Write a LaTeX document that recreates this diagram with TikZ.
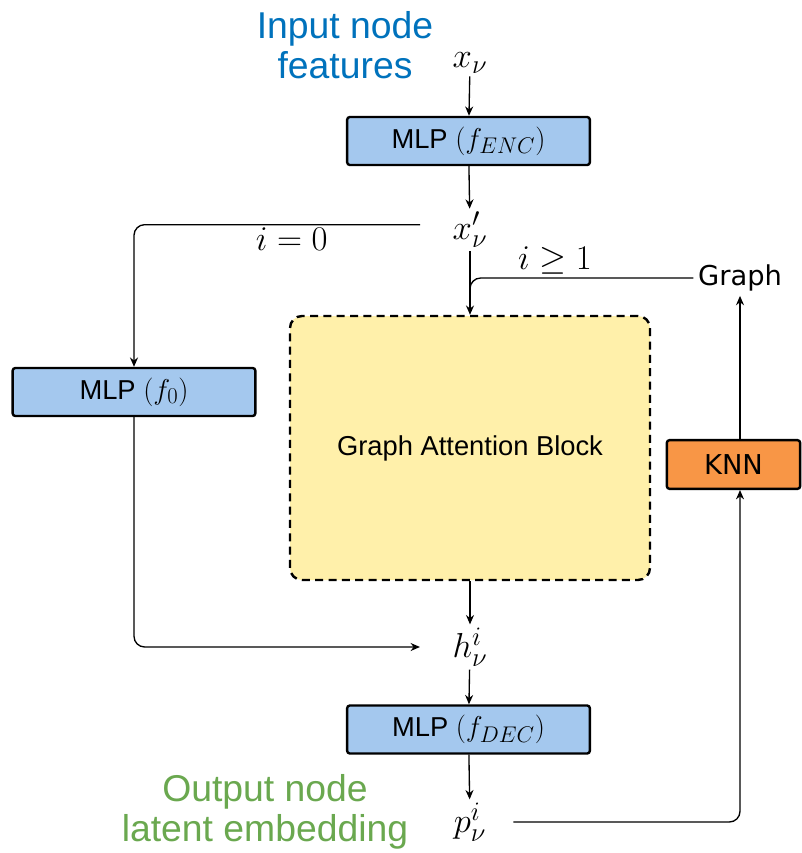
\RequirePackage{fix-cm}
\documentclass[tikz,border=0pt]{standalone}
\usepackage{fontspec}
\setmainfont{Liberation Sans}
\newfontfamily\dejavu{DejaVu Sans}
\usetikzlibrary{arrows.meta}
\DeclareMathSizes{26}{26}{20}{15}
\DeclareMathSizes{20.5}{21.5}{17}{13}

\definecolor{mlpblue}{RGB}{164,200,238}
\definecolor{gabyellow}{RGB}{255,240,170}
\definecolor{knnorange}{RGB}{248,150,70}
\definecolor{inblue}{RGB}{0,114,188}
\definecolor{outgreen}{RGB}{106,168,79}

\tikzset{
  mlpbox/.style={draw, line width=1.8pt, rounded corners=2pt, fill=mlpblue,
    minimum width=182pt, minimum height=36pt, font=\fontsize{20.5}{24}\selectfont},
  gabbox/.style={draw, line width=1.8pt, dash pattern=on 6pt off 4pt, rounded corners=9pt,
    fill=gabyellow, minimum width=270pt, minimum height=198pt, font=\fontsize{20.5}{24}\selectfont},
  knnbox/.style={draw, line width=1.8pt, rounded corners=2pt, fill=knnorange,
    minimum width=100pt, minimum height=36.5pt, font=\dejavu\fontsize{20.5}{24}\selectfont},
  mathlbl/.style={inner sep=2pt, font=\fontsize{26}{30}\selectfont},
  bigtxt/.style={align=center, font=\fontsize{28}{30}\selectfont},
}

\begin{document}
\begin{tikzpicture}[x=0.75pt, y=-0.75pt, line width=1pt,
    >={Stealth[length=7pt,width=6pt]}]
    \useasboundingbox (0,0) rectangle (802,853);
    % --- text labels ---
    \node[bigtxt, text=inblue] (inlbl) at (345,45) {Input node\\features};
    \node[bigtxt, text=outgreen] (outlbl) at (265,812) {Output node\\latent embedding};
    % --- main column ---
    \node[mathlbl] (xin) at (470,63) {$x_\nu$};
    \node[mlpbox] (enc) at (468.5,141) {MLP $(f_{ENC})$};
    \node[mathlbl] (xp) at (470,230) {$x'_\nu$};
    \node[gabbox] (gab) at (470,448) {Graph Attention Block};
    \node[mathlbl] (h) at (470,647) {$h^i_\nu$};
    \node[mlpbox] (dec) at (468.5,729.5) {MLP $(f_{DEC})$};
    \node[mathlbl] (p) at (470,822) {$p^i_\nu$};
    % --- side boxes ---
    \node[mlpbox] (f0) at (134,392) {MLP $(f_0)$};
    \node[knnbox] (knn) at (733.5,464.5) {KNN};
    \node[inner sep=3pt, font=\dejavu\fontsize{20.5}{24}\selectfont] (graph) at (740,278) {Graph};
    % --- connectors ---
    \draw[->] (xin) -- (enc);
    \draw[->] (enc) -- (xp);
    \draw[->] (xp) -- (gab);
    \draw[->] (gab) -- (h);
    \draw[->] (h) -- (dec);
    \draw[->] (dec) -- (p);
    \draw[->, rounded corners=8pt, shorten <=22pt] ([yshift=4pt]xp.west) -| (f0.north)
        node[mathlbl, pos=0.25, below] {$i=0$};
    \draw[->, rounded corners=8pt, shorten >=22pt] (f0.south) |- (h.west);
    \draw[rounded corners=8pt] (graph.west) -| ([yshift=12pt]gab.north)
        node[mathlbl, pos=0.31, above] {$i\geq 1$};
    \draw[->, rounded corners=8pt, shorten <=18pt] (p.east) -| (graph.south |- knn.south);
    \draw[->] (graph.south |- knn.north) -- (graph.south);
\end{tikzpicture}
\end{document}
